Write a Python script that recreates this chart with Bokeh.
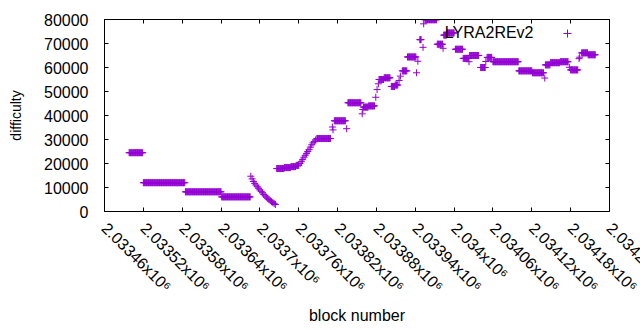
import math
from bokeh.plotting import figure
from bokeh.models import (ColumnDataSource, FixedTicker, LinearAxis, Range1d,
                          Legend, LegendItem, Label)
from bokeh.embed import file_html
from bokeh.resources import INLINE

# ---- data: runs of consecutive blocks sharing one difficulty value ----
run_start = [
    2033498, 2033520, 2033585, 2033641,
    2033686, 2033688, 2033690, 2033692, 2033694, 2033696, 2033698, 2033700,
    2033702, 2033704, 2033706, 2033708, 2033710, 2033712, 2033714, 2033716,
    2033718, 2033720, 2033722, 2033724,
    2033726, 2033738, 2033748, 2033756,
    2033762, 2033764, 2033766, 2033768, 2033770, 2033772, 2033774, 2033776,
    2033778, 2033780, 2033782, 2033784, 2033786,
    2033788, 2033812, 2033813, 2033815, 2033834, 2033836,
    2033858, 2033859, 2033860, 2033868, 2033879, 2033881, 2033883,
    2033884, 2033892, 2033903, 2033909, 2033915, 2033917, 2033920,
    2033928, 2033942, 2033944, 2033947, 2033952, 2033953, 2033955,
    2033974, 2033983, 2033984, 2033989, 2034002, 2034014, 2034023,
    2034024, 2034041, 2034049, 2034051, 2034060, 2034100, 2034121,
    2034140, 2034141, 2034149, 2034164, 2034178, 2034180, 2034193,
    2034194, 2034197, 2034207,
]
run_length = [
    22, 65, 56, 45,
    1, 1, 1, 1, 1, 1, 1, 1,
    1, 1, 1, 1, 1, 1, 1, 1,
    1, 1, 1, 1,
    12, 10, 8, 5,
    1, 1, 1, 1, 1, 1, 1, 1,
    1, 1, 1, 1, 1,
    22, 1, 1, 18, 1, 21,
    1, 1, 8, 10, 1, 1, 1,
    8, 10, 6, 5, 1, 1, 8,
    14, 1, 1, 3, 1, 1, 19,
    9, 1, 5, 12, 12, 9, 1,
    15, 8, 1, 8, 40, 21, 18,
    1, 8, 15, 13, 1, 12, 1,
    1, 10, 12,
]
run_value = [
    24500, 12000, 8200, 6100,
    14700, 13600, 12500, 11700, 11000, 10300, 9700, 9000,
    8400, 7800, 7100, 6500, 6000, 5500, 5000, 4500,
    4100, 3700, 3300, 2900,
    17900, 18300, 18700, 19200,
    20000, 20800, 21700, 22600, 23400, 24200, 25000, 25800,
    26800, 27800, 28600, 29100, 29800,
    30400, 35200, 34000, 37800, 34500, 45300,
    40700, 42500, 43500, 44000, 47600, 50800, 53200,
    55000, 55700, 52100, 52700, 54600, 56400, 58600,
    64400, 57800, 62600, 71600, 68400, 78200, 79900,
    69700, 68000, 73500, 74400, 67600, 63800, 62400,
    65000, 60000, 62500, 64200, 62400, 58600, 57800,
    55600, 61100, 62000, 62400, 60100, 59000, 63700,
    64300, 66100, 65300,
]

x_ticks = [2033460, 2033520, 2033580, 2033640, 2033700, 2033760, 2033820,
           2033880, 2033940, 2034000, 2034060, 2034120, 2034180, 2034240]
y_ticks = [0, 10000, 20000, 30000, 40000, 50000, 60000, 70000, 80000]
series_name = "LYRA2REv2"

blocks, difficulty = [], []
for s, n, v in zip(run_start, run_length, run_value):
    for k in range(n):
        blocks.append(s + k)
        difficulty.append(v)

src = ColumnDataSource(dict(block=blocks, difficulty=difficulty))

FONT = "Liberation Sans"
COLOR = "#9400D3"

p = figure(width=640, height=330,
           x_range=Range1d(2033460, 2034240), y_range=Range1d(0, 80000),
           output_backend="svg", toolbar_location=None,
           x_axis_location=None, y_axis_location=None,
           min_border_left=104, min_border_right=31,
           min_border_top=19, min_border_bottom=119)
p.xgrid.visible = False
p.ygrid.visible = False
p.outline_line_color = "black"
p.background_fill_color = "white"
p.border_fill_color = "white"


def fmt(t):
    return f"{t/1e6:g}x10\u2076"


x_labels = {t: fmt(t) for t in x_ticks}

# Bokeh slides the first and the last label of an axis back inside the
# canvas; the right-most label runs off the page edge in the reference, so
# it is listed in the middle of the ticker's list to leave it where it is.
ticker_order = x_ticks[:7] + [x_ticks[-1]] + x_ticks[7:-1]


def style_axis(ax):
    ax.axis_line_color = "black"
    ax.major_tick_line_color = "black"
    ax.major_tick_in = 4
    ax.major_tick_out = 0
    ax.minor_tick_line_color = None
    ax.major_label_text_font = FONT
    ax.major_label_text_font_size = "16px"
    ax.major_label_text_color = "black"
    ax.axis_label_text_font = FONT
    ax.axis_label_text_font_style = "normal"
    ax.axis_label_text_color = "black"


xb = LinearAxis(ticker=FixedTicker(ticks=ticker_order),
                axis_label="block number")
style_axis(xb)
xb.major_label_overrides = x_labels
xb.major_label_orientation = -math.pi / 4
xb.major_label_standoff = 14
xb.axis_label_text_font_size = "16px"
xb.axis_label_standoff = 3
p.add_layout(xb, "below")

yl = LinearAxis(ticker=FixedTicker(ticks=y_ticks), axis_label="difficulty")
style_axis(yl)
yl.major_label_standoff = 16
yl.axis_label_text_font_size = "14px"
yl.axis_label_standoff = 17
p.add_layout(yl, "left")

xt = LinearAxis(ticker=FixedTicker(ticks=x_ticks))
style_axis(xt)
xt.major_label_overrides = {t: "" for t in x_ticks}
xt.major_label_standoff = 0
xt.major_label_text_font_size = "0px"
p.add_layout(xt, "above")

yr = LinearAxis(ticker=FixedTicker(ticks=y_ticks))
style_axis(yr)
yr.major_label_overrides = {t: "" for t in y_ticks}
yr.major_label_standoff = 0
yr.major_label_text_font_size = "0px"
p.add_layout(yr, "right")

r = p.scatter(x="block", y="difficulty", source=src, marker="cross",
              size=7, line_color=COLOR, line_width=1)

# gnuplot-style key: title on the left, sample point on the right
legend = Legend(items=[LegendItem(label=" ", renderers=[r])],
                location=(453, 168), padding=0, margin=0,
                glyph_width=20, glyph_height=20, label_standoff=0,
                background_fill_alpha=0, border_line_alpha=0)
legend.label_text_font_size = "16px"
p.add_layout(legend)

key_title = Label(x=429, y=179, x_units="screen", y_units="screen",
                  text=series_name, text_align="right",
                  text_baseline="middle", text_font=FONT,
                  text_font_size="16px", text_color="black")
p.add_layout(key_title)

open("out.html", "w").write(file_html(p, INLINE))
